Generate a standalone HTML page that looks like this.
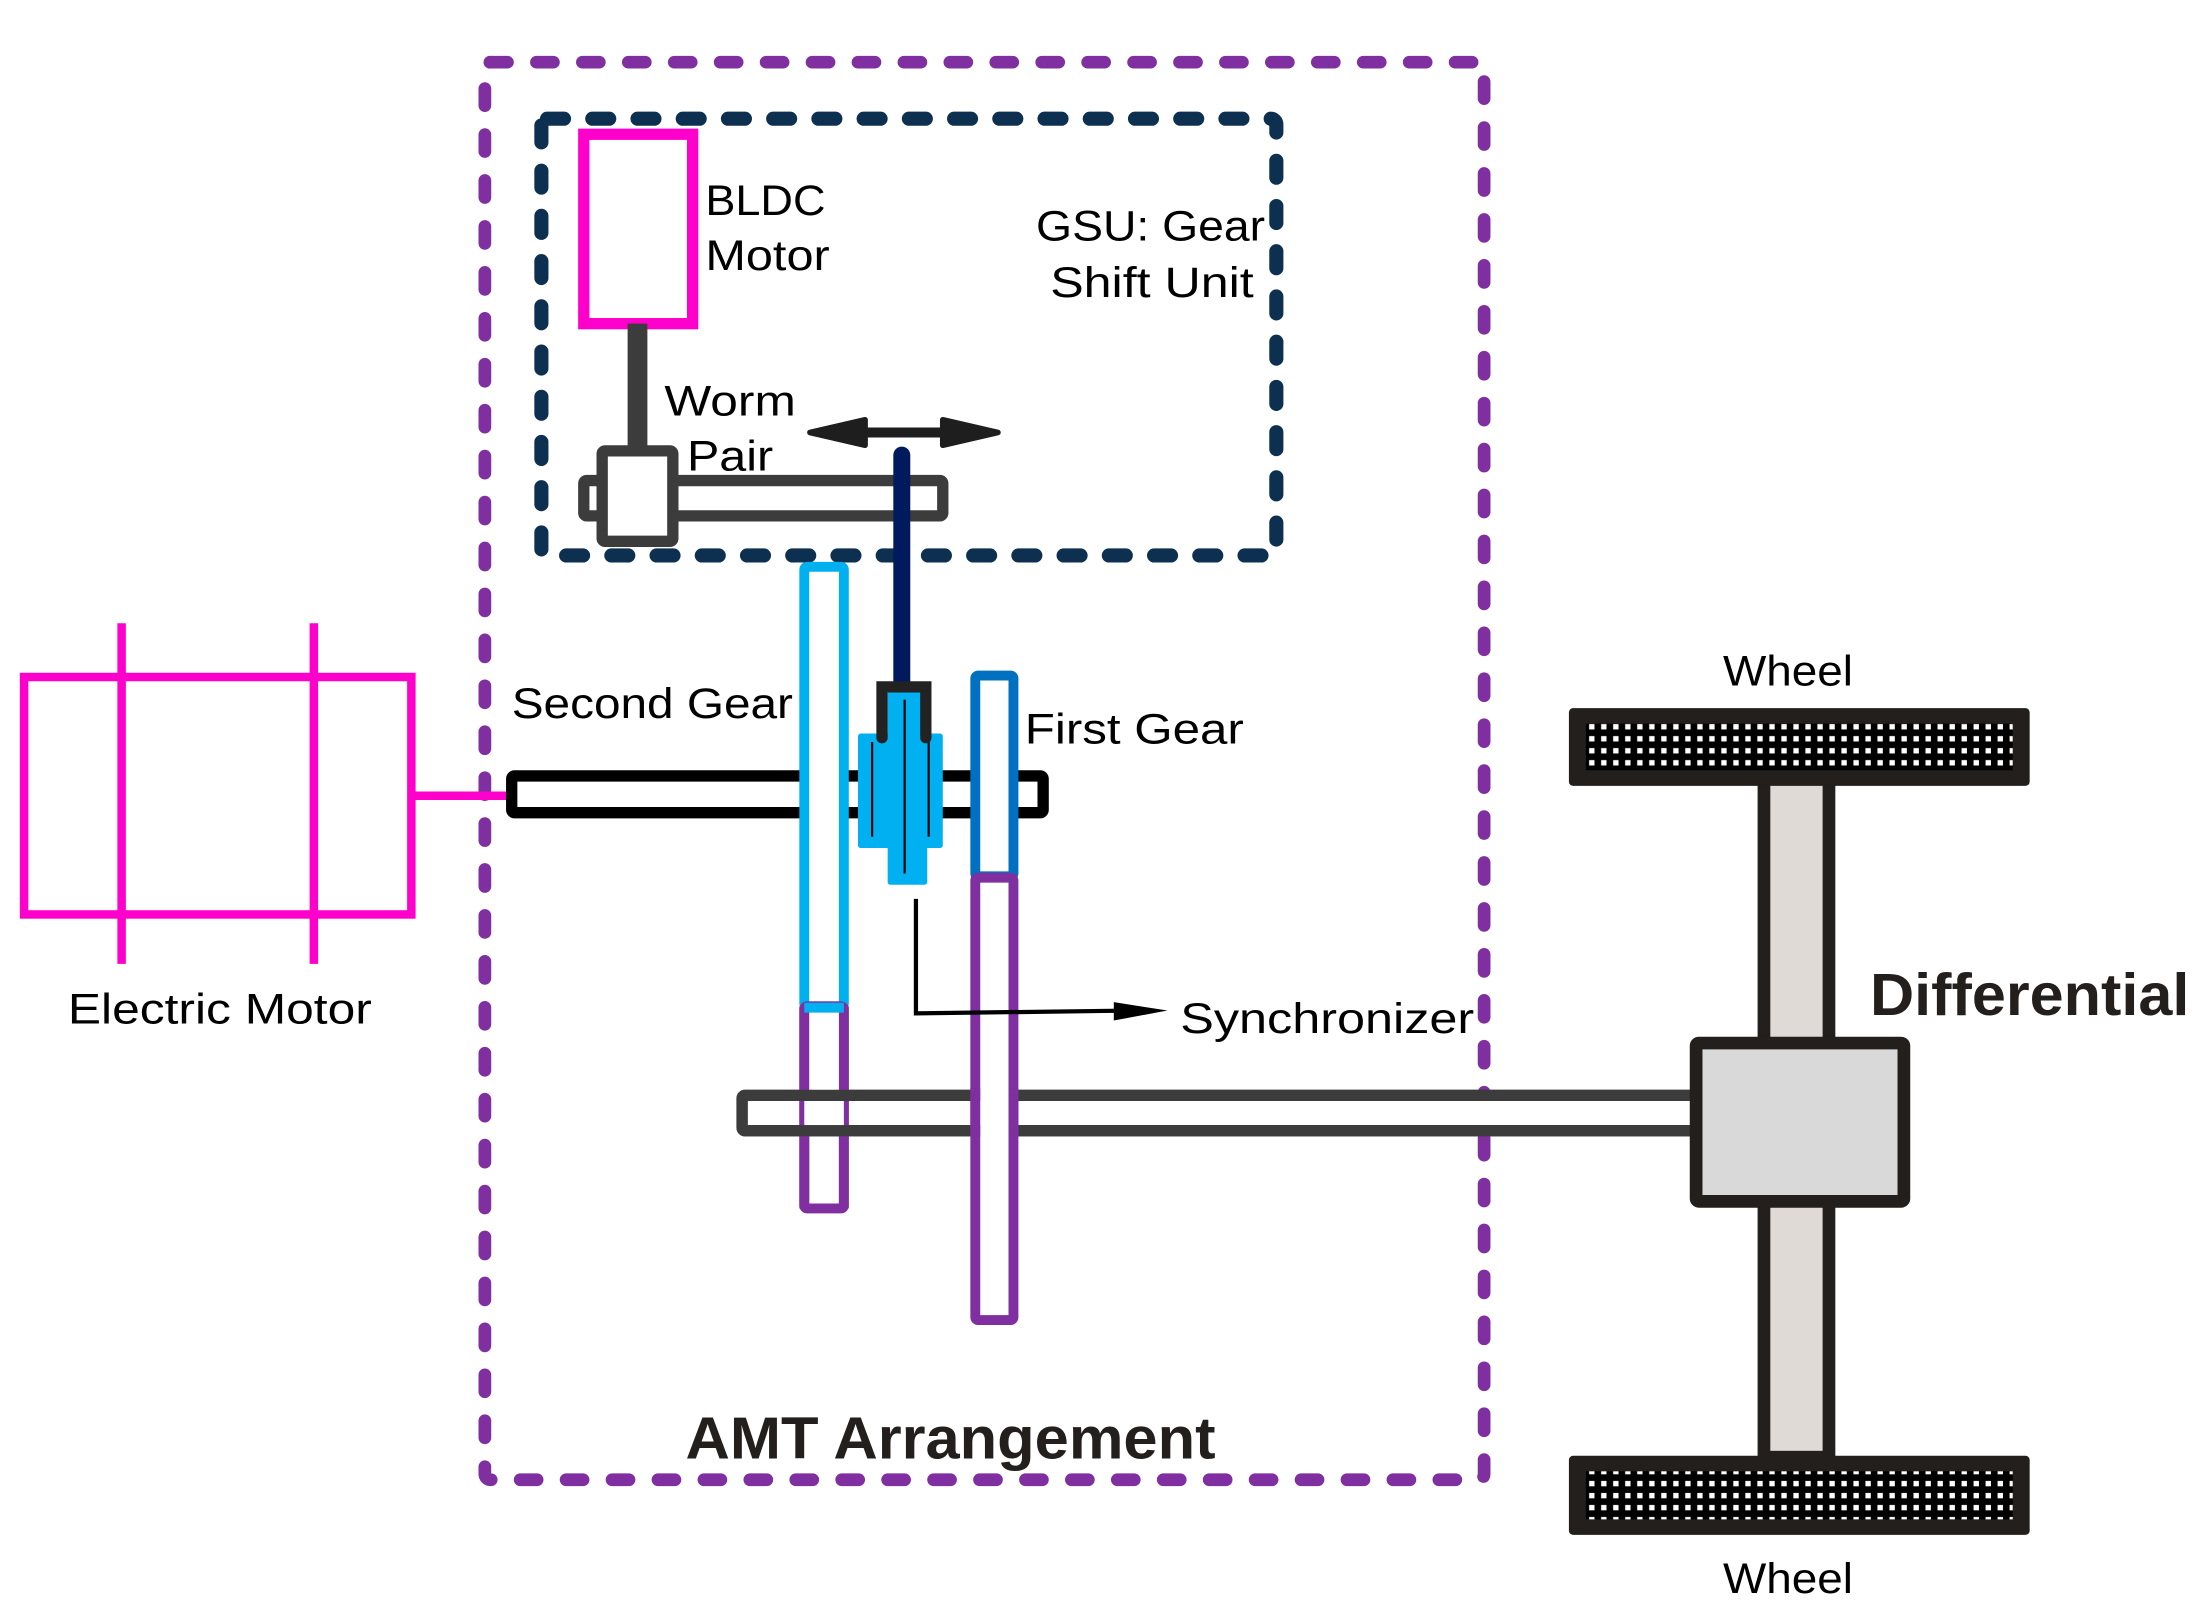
<!DOCTYPE html>
<html><head><meta charset="utf-8"><style>
html,body{margin:0;padding:0;background:#fff;}
svg{display:block;}
text{font-family:"Liberation Sans",Arial,sans-serif;}
</style></head><body>
<svg width="2205" height="1607" viewBox="0 0 1560 1137" xmlns="http://www.w3.org/2000/svg">
<defs>
<pattern id="dots" x="0" y="0" width="8.5" height="8.5" patternUnits="userSpaceOnUse">
<rect width="8.5" height="8.5" fill="#000"/>
<rect x="2.3" y="2.3" width="3.8" height="3.8" fill="#fff"/>
</pattern>
</defs>
<rect width="1560" height="1137" fill="#fff"/>

<rect x="343" y="44" width="707" height="1003" rx="4" fill="none" stroke="#7f2fa0" stroke-width="9" stroke-dasharray="12 20.5" stroke-linecap="round"/>
<rect x="383" y="84" width="520" height="309" rx="4" fill="none" stroke="#0d3050" stroke-width="10" stroke-dasharray="12 20" stroke-linecap="round"/>

<rect x="17" y="479" width="274" height="168" fill="none" stroke="#ff00cc" stroke-width="6"/>
<line x1="86" y1="441" x2="86" y2="682" stroke="#ff00cc" stroke-width="6"/>
<line x1="222" y1="441" x2="222" y2="682" stroke="#ff00cc" stroke-width="6"/>
<line x1="291" y1="563" x2="360" y2="563" stroke="#ff00cc" stroke-width="6"/>

<rect x="413" y="95" width="77" height="134" fill="none" stroke="#ff00cc" stroke-width="8"/>
<line x1="451" y1="229" x2="451" y2="320" stroke="#3c3c3c" stroke-width="14"/>
<rect x="413" y="340" width="254" height="25" fill="#fff" stroke="#3c3c3c" stroke-width="8" rx="2"/>
<rect x="426" y="319" width="50" height="64" fill="#fff" stroke="#3c3c3c" stroke-width="8" rx="2"/>
<line x1="590" y1="306" x2="690" y2="306" stroke="#1e1e1e" stroke-width="7"/>
<polygon points="573,306 612,297 612,315" fill="#1e1e1e" stroke="#1e1e1e" stroke-width="4" stroke-linejoin="round"/>
<polygon points="706,306 667,297 667,315" fill="#1e1e1e" stroke="#1e1e1e" stroke-width="4" stroke-linejoin="round"/>

<rect x="362" y="549" width="376" height="26" fill="#fff" stroke="#000" stroke-width="8" rx="2"/>
<rect x="525" y="775" width="680" height="25" fill="#fff" stroke="#3c3c3c" stroke-width="8" rx="2"/>

<rect x="569" y="401" width="28" height="311" fill="#fff" stroke="#00b0f0" stroke-width="7" rx="2"/>
<rect x="569" y="712" width="28" height="143" fill="none" stroke="#7f2fa0" stroke-width="7" rx="2"/>
<rect x="569" y="712" width="28" height="63" fill="#fff" stroke="none"/>
<line x1="569" y1="712" x2="569" y2="855" stroke="#7f2fa0" stroke-width="7"/>
<line x1="597" y1="712" x2="597" y2="855" stroke="#7f2fa0" stroke-width="7"/>
<line x1="569" y1="713" x2="597" y2="713" stroke="#00b0f0" stroke-width="7"/>
<rect x="525" y="775" width="680" height="25" fill="none" stroke="#3c3c3c" stroke-width="8" rx="2"/>
<rect x="569" y="779" width="28" height="17" fill="#fff"/>

<rect x="690" y="478" width="27" height="142" fill="#fff" stroke="#0070c0" stroke-width="7" rx="2"/>
<rect x="690" y="621" width="27" height="313" fill="#fff" stroke="#7f2fa0" stroke-width="7" rx="2"/>
<rect x="693" y="779" width="21" height="17" fill="#fff"/>
<line x1="690" y1="770" x2="690" y2="804" stroke="#7f2fa0" stroke-width="7"/>
<line x1="717" y1="770" x2="717" y2="804" stroke="#7f2fa0" stroke-width="7"/>

<polygon points="609,521 630,521 630,491 654,491 654,521 665,521 665,598 654,598 654,624 630,624 630,598 609,598" fill="#00b0f0" stroke="#00b0f0" stroke-width="4" stroke-linejoin="round"/>
<line x1="640" y1="495" x2="640" y2="618" stroke="#000" stroke-width="1.5"/>
<line x1="617" y1="525" x2="617" y2="592" stroke="#000" stroke-width="1.5"/>
<line x1="657" y1="525" x2="657" y2="592" stroke="#000" stroke-width="1.5"/>
<line x1="638" y1="322" x2="638" y2="484" stroke="#001a5e" stroke-width="12" stroke-linecap="round"/>
<polyline points="624,522 624,486 655,486 655,522" fill="none" stroke="#222" stroke-width="8" stroke-linecap="round"/>

<polyline points="648,636 648,717 800,715" fill="none" stroke="#000" stroke-width="3"/>
<polygon points="788,709 826,715 788,722" fill="#000"/>

<rect x="1248" y="550" width="46" height="190" fill="#e0dad7" stroke="#231f1c" stroke-width="9"/>
<rect x="1248" y="846" width="46" height="185" fill="#e0dad7" stroke="#231f1c" stroke-width="9"/>
<rect x="1200" y="738" width="147" height="112" fill="#d9d9d9" stroke="#231f1c" stroke-width="9" rx="2"/>

<rect x="1110" y="501" width="326" height="55" rx="3" fill="#231f1c"/>
<rect x="1122" y="512" width="302" height="33" fill="url(#dots)"/>
<rect x="1110" y="1030" width="326" height="56" rx="3" fill="#231f1c"/>
<rect x="1122" y="1041" width="302" height="34" fill="url(#dots)"/>

<g font-size="30" fill="#000" lengthAdjust="spacingAndGlyphs">
<text x="499" y="152" textLength="85" lengthAdjust="spacingAndGlyphs">BLDC</text>
<text x="499" y="191" textLength="88" lengthAdjust="spacingAndGlyphs">Motor</text>
<text x="733" y="170" textLength="162" lengthAdjust="spacingAndGlyphs">GSU: Gear</text>
<text x="743" y="210" textLength="144" lengthAdjust="spacingAndGlyphs">Shift Unit</text>
<text x="470" y="294" textLength="93" lengthAdjust="spacingAndGlyphs">Worm</text>
<text x="486" y="333" textLength="61" lengthAdjust="spacingAndGlyphs">Pair</text>
<text x="362" y="508" textLength="199" lengthAdjust="spacingAndGlyphs">Second Gear</text>
<text x="725" y="526" textLength="155" lengthAdjust="spacingAndGlyphs">First Gear</text>
<text x="48" y="724" textLength="215" lengthAdjust="spacingAndGlyphs">Electric Motor</text>
<text x="835" y="731" textLength="208" lengthAdjust="spacingAndGlyphs">Synchronizer</text>
<text x="1219" y="485" textLength="92" lengthAdjust="spacingAndGlyphs">Wheel</text>
<text x="1219" y="1127" textLength="92" lengthAdjust="spacingAndGlyphs">Wheel</text>
</g>
<g font-size="42" font-weight="bold" fill="#231f1c">
<text x="1323" y="718" textLength="226" lengthAdjust="spacingAndGlyphs">Differential</text>
<text x="485" y="1032" textLength="375" lengthAdjust="spacingAndGlyphs">AMT Arrangement</text>
</g>
</svg>
</body></html>
